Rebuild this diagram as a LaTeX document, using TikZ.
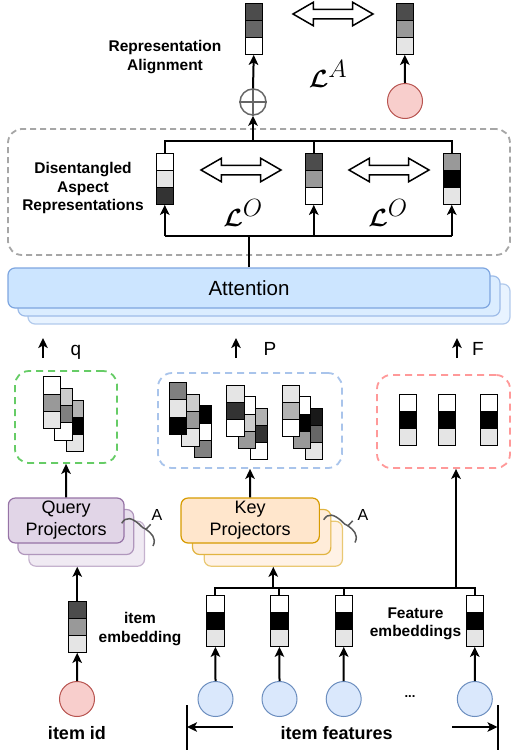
\documentclass[tikz,border=0pt]{standalone}
\usepackage{amsmath,amssymb}
\usepackage{fontspec}
\setmainfont{Liberation Sans}
\usetikzlibrary{arrows.meta, positioning, shapes.arrows}

\definecolor{attfill}{HTML}{CCE5FF}
\definecolor{attdraw}{HTML}{7EA6E0}
\definecolor{qfill}{HTML}{E1D5E7}
\definecolor{qdraw}{HTML}{9673A6}
\definecolor{kfill}{HTML}{FFE6CC}
\definecolor{kdraw}{HTML}{D79B00}
\definecolor{idfill}{HTML}{F8CECC}
\definecolor{iddraw}{HTML}{B85450}
\definecolor{ftfill}{HTML}{DAE8FC}
\definecolor{ftdraw}{HTML}{6C8EBF}
\definecolor{qdash}{HTML}{66CC66}
\definecolor{pdash}{HTML}{A9C4EB}
\definecolor{fdash}{HTML}{FF9999}
\definecolor{ddash}{HTML}{A6A6A6}

\newcommand{\embvec}[5]{%
  \node[cell, fill=#3, anchor=north west] (#1-1) at (#2) {};
  \node[cell, fill=#4, below=0pt of #1-1] (#1-2) {};
  \node[cell, fill=#5, below=0pt of #1-2] (#1-3) {};
}

\begin{document}
\begin{tikzpicture}[x=1pt, y=-1pt,
  cell/.style={draw, line width=1pt, minimum width=17.5pt, minimum height=17.3pt, inner sep=0pt, outer sep=0pt},
  wire/.style={line width=2pt},
  arr/.style={line width=2pt, -{Stealth[length=10pt, width=9.5pt, inset=2.5pt]}},
  lbl/.style={font=\bfseries\fontsize{15.5}{18.5}\selectfont, align=center},
  big/.style={font=\bfseries\fontsize{18}{22}\selectfont},
  sym/.style={font=\fontsize{19}{22}\selectfont, anchor=base},
  loss/.style={font=\fontsize{33}{36}\selectfont},
  hollow/.style={double arrow, draw, line width=1.5pt, fill=white, minimum height=80pt, inner sep=4pt, double arrow head extend=7pt, double arrow tip angle=60},
  grpbox/.style={draw, line width=1.8pt, rounded corners=14pt, dash pattern=on 7pt off 5pt, inner sep=0pt},
  stack/.style={draw, line width=1.2pt, rounded corners=7pt, inner sep=0pt},
  ball/.style={circle, draw, line width=1pt, minimum size=35pt, inner sep=0pt},
  squiggle/.style={draw=black!65, line width=1.5pt}
]
\useasboundingbox (0,0) rectangle (512,755);

% top: representation alignment
\embvec{ta}{245,3}{black!70}{black!60}{white}
\embvec{tb}{396,3}{black!70}{black!40}{black!10}
\node[hollow] (alarr) at (333,14) {};
\node[lbl] (ralign) at (165,57) {Representation\\Alignment};
\node[loss] (lA) at (328,74) {$\boldsymbol{\mathcal{L}}^{A}$};
\node[circle, draw=black!60, line width=1.5pt, minimum size=26pt, inner sep=0pt] (oplus) at (253,102) {};
\draw[black!60, line width=1.5pt] (oplus.north) -- (oplus.south) (oplus.west) -- (oplus.east);
\node[ball, fill=idfill, draw=iddraw] (rid) at (405,101) {};
\draw[arr] (oplus.north) -- (ta-3.south);
\draw[arr] (rid.north) -- (tb-3.south);

% disentangled aspect representations
\node[grpbox, draw=ddash, dash pattern=on 6pt off 4pt, minimum width=502pt, minimum height=126pt] (dbox) at (259,192) {};
\node[lbl] (dlbl) at (83,188) {Disentangled\\Aspect\\Representations};
\embvec{d1}{156,153}{white}{black!10}{black!80}
\embvec{d2}{305,153}{black!70}{black!40}{white}
\embvec{d3}{443,153}{black!40}{black}{black!10}
\node[hollow] (oarr1) at (241,170) {};
\node[hollow] (oarr2) at (389,170) {};
\node[loss] (lO1) at (243,213) {$\boldsymbol{\mathcal{L}}^{O}$};
\node[loss] (lO2) at (388,213) {$\boldsymbol{\mathcal{L}}^{O}$};
\coordinate (dtop) at (253,141);
\coordinate (dbot) at (249,236);
\draw[wire] (d1-1.north) |- (d3-1.north |- dtop) -- (d3-1.north);
\draw[wire] (d2-1.north) -- (d2-1.north |- dtop);
\draw[arr] (dtop) -- (oplus.south);
\draw[wire] (d1-3.south |- dbot) -- (d3-3.south |- dbot);
\draw[arr] (d1-3.south |- dbot) -- (d1-3.south);
\draw[arr] (d2-3.south |- dbot) -- (d2-3.south);
\draw[arr] (d3-3.south |- dbot) -- (d3-3.south);

% attention
\node[stack, draw=attdraw!60, fill=attfill!45, minimum width=482pt, minimum height=40pt] (att3) at (269,304) {};
\node[stack, draw=attdraw!75, fill=attfill!70, minimum width=482pt, minimum height=40pt] (att2) at (259,296) {};
\node[stack, draw=attdraw, fill=attfill, minimum width=482pt, minimum height=40pt, font=\fontsize{20.5}{24}\selectfont] (att) at (249,288) {Attention};
\draw[wire] (att.north -| dbot) -- (dbot);

% q, P, F
\coordinate (qlo) at (43,358);  \coordinate (qhi) at (43,338);
\coordinate (plo) at (236,358); \coordinate (phi) at (236,338);
\coordinate (flo) at (457,358); \coordinate (fhi) at (457,338);
\draw[arr] (qlo) -- (qhi);
\draw[arr] (plo) -- (phi);
\draw[arr] (flo) -- (fhi);
\node[sym] (qtxt) at (76,355) {q};
\node[sym] (ptxt) at (270,355) {P};
\node[sym] (ftxt) at (478,355) {F};

\node[grpbox, draw=qdash, minimum width=102pt, minimum height=92pt] (qbox) at (66,417) {};
\node[grpbox, draw=pdash, minimum width=184pt, minimum height=95pt] (pbox) at (250,420.5) {};
\node[grpbox, draw=fdash, minimum width=133pt, minimum height=93pt] (fbox) at (443.5,421.5) {};

\embvec{q3}{66,400}{black!30}{black}{black!10}
\embvec{q2}{54.7,388.3}{black!20}{black!50}{white}
\embvec{q1}{43.3,376.7}{white}{black!40}{black!10}

\embvec{pa3}{194,405.7}{black}{white}{black!50}
\embvec{pa2}{181.7,394.3}{black!20}{black!40}{black!10}
\embvec{pa1}{169.3,382.5}{black!50}{black!10}{black}
\embvec{pb3}{250,408}{black!30}{black!80}{white}
\embvec{pb2}{238.3,396.7}{white}{black!20}{black!40}
\embvec{pb1}{226.7,385}{black!10}{black!80}{white}
\embvec{pc3}{305,408}{black!90}{black!60}{black!10}
\embvec{pc2}{293.3,396.7}{white}{black}{black!40}
\embvec{pc1}{282.3,385}{black!10}{black!30}{white}

\embvec{fa}{399.3,394}{white}{black}{black!10}
\embvec{fb}{438.3,394}{white}{black}{black!10}
\embvec{fc}{480,394}{white}{black}{black!10}

% projectors
\node[stack, draw=qdraw!55, fill=qfill!50, minimum width=115.7pt, minimum height=45pt] (qproj3) at (86.7,543.7) {};
\node[stack, draw=qdraw!75, fill=qfill!75, minimum width=115.7pt, minimum height=45pt] (qproj2) at (75.8,532) {};
\node[stack, draw=qdraw, fill=qfill, minimum width=115.7pt, minimum height=45pt, font=\fontsize{18}{22}\selectfont, align=center] (qproj) at (66.2,520.5) {Query\\Projectors};
\node[stack, draw=kdraw!55, fill=kfill!50, minimum width=138.3pt, minimum height=45pt] (kproj3) at (273.3,543.7) {};
\node[stack, draw=kdraw!75, fill=kfill!75, minimum width=138.3pt, minimum height=45pt] (kproj2) at (261.7,532) {};
\node[stack, draw=kdraw, fill=kfill, minimum width=138.3pt, minimum height=45pt, font=\fontsize{18}{22}\selectfont, align=center] (kproj) at (250.2,520.5) {Key\\Projectors};

\draw[squiggle] (121.7,523.3) .. controls (126,516) and (132,518) .. (139,524) .. controls (142,527) and (144,529) .. (146,529.3) -- (150.7,524.3);
\draw[squiggle] (146,529.3) .. controls (151,533) and (157,538) .. (153,546);
\begin{scope}[shift={(202,-3.5)}]
\draw[squiggle] (121.7,523.3) .. controls (126,516) and (132,518) .. (139,524) .. controls (142,527) and (144,529) .. (146,529.3) -- (150.7,524.3);
\draw[squiggle] (146,529.3) .. controls (151,533) and (157,538) .. (153,546);
\end{scope}
\node[font=\fontsize{16}{19}\selectfont] (qA) at (157,515) {A};
\node[font=\fontsize{16}{19}\selectfont] (kA) at (363,515) {A};

\draw[arr] (qproj.north) -- (qbox.south);
\draw[arr] (kproj.north) -- (pbox.south);

% embeddings
\embvec{iemb}{68.5,601}{black!70}{black!40}{black!10}
\embvec{f1}{206.7,595}{white}{black}{black!10}
\embvec{f2}{270.7,595}{white}{black}{black!10}
\embvec{f3}{335,595}{white}{black}{black!10}
\embvec{f4}{466,595}{white}{black}{black!10}
\node[lbl] (ielbl) at (140,629) {item\\embedding};
\node[lbl] (felbl) at (415.5,624) {Feature\\embeddings};

\coordinate (fbus) at (456,588);
\draw[wire] (f1-1.north) |- (f4-1.north |- fbus) -- (f4-1.north);
\draw[wire] (f2-1.north) -- (f2-1.north |- fbus);
\draw[wire] (f3-1.north) -- (f3-1.north |- fbus);
\draw[arr] (fbus) -- (fbus |- fbox.south);
\draw[arr] (kproj3.south |- fbus) -- (kproj3.south);
\draw[arr] (iemb-1.north) -- (iemb-1.north |- qproj3.south);

% inputs
\node[ball, fill=idfill, draw=iddraw] (iid) at (77,699) {};
\node[ball, fill=ftfill, draw=ftdraw] (c1) at (215.5,699) {};
\node[ball, fill=ftfill, draw=ftdraw] (c2) at (279.5,699) {};
\node[ball, fill=ftfill, draw=ftdraw] (c3) at (343.7,699) {};
\node[ball, fill=ftfill, draw=ftdraw] (c4) at (474.8,699) {};
\node[font=\bfseries\fontsize{13}{15}\selectfont] (dots) at (410,697) {...};
\draw[arr] (iid.north) -- (iemb-3.south);
\draw[arr] (c1.north) -- (f1-3.south);
\draw[arr] (c2.north) -- (f2-3.south);
\draw[arr] (c3.north) -- (f3-3.south);
\draw[arr] (c4.north) -- (f4-3.south);

\node[big] (iidlbl) at (77,733) {item id};
\node[big] (iflbl) at (336.7,733) {item features};
\coordinate (lbtop) at (187,705); \coordinate (lbbot) at (187,750);
\coordinate (rbtop) at (497.5,705); \coordinate (rbbot) at (497.5,750);
\coordinate (larr) at (233,727); \coordinate (rarr) at (452,727);
\draw[wire] (lbtop) -- (lbbot);
\draw[wire] (rbtop) -- (rbbot);
\draw[arr] (larr) -- (larr -| lbtop);
\draw[arr] (rarr) -- (rarr -| rbtop);
\end{tikzpicture}
\end{document}
